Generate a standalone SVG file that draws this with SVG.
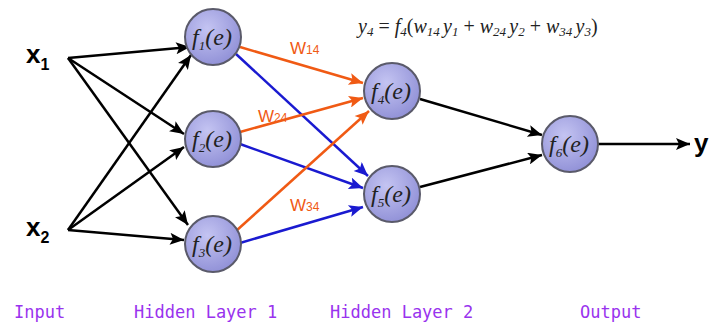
<svg xmlns="http://www.w3.org/2000/svg" width="709" height="324" viewBox="0 0 709 324">
<defs>
<radialGradient id="g" cx="0.4" cy="0.35" r="0.7">
<stop offset="0" stop-color="#c4c4f2"/>
<stop offset="1" stop-color="#8f8fd6"/>
</radialGradient>
<marker id="ao" viewBox="0 0 14 12" refX="14" refY="6" markerWidth="15" markerHeight="12" markerUnits="userSpaceOnUse" orient="auto"><path d="M0,0 L14,6 L0,12 L3,6 z" fill="#f05a14"/></marker>
<marker id="ab" viewBox="0 0 14 12" refX="14" refY="6" markerWidth="15" markerHeight="12" markerUnits="userSpaceOnUse" orient="auto"><path d="M0,0 L14,6 L0,12 L3,6 z" fill="#1a1ad0"/></marker>
<marker id="akb" viewBox="0 0 14 12" refX="14" refY="6" markerWidth="15" markerHeight="12" markerUnits="userSpaceOnUse" orient="auto"><path d="M0,0 L14,6 L0,12 L3,6 z" fill="#000"/></marker>
</defs>
<style>
.n{fill:url(#g);stroke:#5a5a6a;stroke-width:2}
.f{font-family:"Liberation Serif",serif;font-style:italic;font-size:24px;fill:#222}
.k{stroke:#000;stroke-width:2.5;fill:none;marker-end:url(#akb)}
.o{stroke:#f05a14;stroke-width:2.5;fill:none;marker-end:url(#ao)}
.b{stroke:#1a1ad0;stroke-width:2.5;fill:none;marker-end:url(#ab)}
.x{font-family:"Liberation Sans",Arial,sans-serif;font-weight:bold;font-size:26px;fill:#000}
.w{font-family:"Liberation Sans Narrow","Liberation Sans",Arial,sans-serif;font-size:17px;fill:#f05a14}
.lab{font-family:"DejaVu Sans Mono","Liberation Mono",monospace;font-size:17px;fill:#9933ee}
.eq{font-family:"Liberation Serif",serif;font-style:italic;font-size:20px;fill:#222}
</style>
<g id="connectors">
<line class="k" x1="68" y1="58" x2="190" y2="47"/>
<line class="k" x1="68" y1="58" x2="184" y2="134"/>
<line class="k" x1="68" y1="58" x2="188" y2="225"/>
<line class="k" x1="68" y1="230" x2="191" y2="55"/>
<line class="k" x1="68" y1="230" x2="184" y2="147"/>
<line class="k" x1="68" y1="230" x2="184" y2="240"/>
<line class="o" x1="240" y1="47" x2="363" y2="83"/>
<line class="b" x1="236" y1="54" x2="368" y2="176"/>
<line class="o" x1="240" y1="132" x2="363" y2="98"/>
<line class="b" x1="240" y1="144" x2="363" y2="188"/>
<line class="o" x1="236" y1="231" x2="369" y2="111"/>
<line class="b" x1="240" y1="243" x2="363" y2="207"/>
<line class="k" x1="420" y1="99" x2="542" y2="135"/>
<line class="k" x1="420" y1="187" x2="542" y2="155"/>
<line class="k" x1="598" y1="144" x2="690" y2="144"/>
</g>
<g id="x1"><text class="x" x="26" y="63">x<tspan font-size="16" dy="7">1</tspan></text></g>
<g id="x2"><text class="x" x="26" y="236">x<tspan font-size="16" dy="7">2</tspan></text></g>
<g id="f1"><circle class="n" cx="213" cy="37" r="28"/><text class="f" x="212" y="45" text-anchor="middle">f<tspan font-size="13" dy="5">1</tspan><tspan dy="-5">(e)</tspan></text></g>
<g id="f2"><circle class="n" cx="213" cy="139" r="28"/><text class="f" x="212" y="147" text-anchor="middle">f<tspan font-size="13" dy="5">2</tspan><tspan dy="-5">(e)</tspan></text></g>
<g id="f3"><circle class="n" cx="213" cy="244" r="28"/><text class="f" x="212" y="252" text-anchor="middle">f<tspan font-size="13" dy="5">3</tspan><tspan dy="-5">(e)</tspan></text></g>
<g id="f4"><circle class="n" cx="392" cy="91" r="28"/><text class="f" x="391" y="99" text-anchor="middle">f<tspan font-size="13" dy="5">4</tspan><tspan dy="-5">(e)</tspan></text></g>
<g id="f5"><circle class="n" cx="392" cy="194" r="28"/><text class="f" x="391" y="202" text-anchor="middle">f<tspan font-size="13" dy="5">5</tspan><tspan dy="-5">(e)</tspan></text></g>
<g id="f6"><circle class="n" cx="570" cy="144" r="28"/><text class="f" x="569" y="152" text-anchor="middle">f<tspan font-size="13" dy="5">6</tspan><tspan dy="-5">(e)</tspan></text></g>
<g id="y"><text class="x" x="694" y="152">y</text></g>
<g id="weights">
<text class="w" x="290" y="54">W<tspan font-size="12">14</tspan></text>
<text class="w" x="258" y="122">W<tspan font-size="12">24</tspan></text>
<text class="w" x="290" y="211">W<tspan font-size="12">34</tspan></text>
</g>
<g id="equation"><text class="eq" x="358" y="33">y<tspan font-size="13" dy="3">4</tspan><tspan dy="-3" font-style="normal"> = </tspan>f<tspan font-size="13" dy="3">4</tspan><tspan dy="-3" font-style="normal">(</tspan>w<tspan font-size="13" dy="3">14 </tspan><tspan dy="-3">y</tspan><tspan font-size="13" dy="3">1</tspan><tspan dy="-3" font-style="normal"> + </tspan>w<tspan font-size="13" dy="3">24 </tspan><tspan dy="-3">y</tspan><tspan font-size="13" dy="3">2</tspan><tspan dy="-3" font-style="normal"> + </tspan>w<tspan font-size="13" dy="3">34 </tspan><tspan dy="-3">y</tspan><tspan font-size="13" dy="3">3</tspan><tspan dy="-3" font-style="normal">)</tspan></text></g>
<g id="labels">
<text class="lab" x="14" y="318">Input</text>
<text class="lab" x="134" y="318">Hidden Layer 1</text>
<text class="lab" x="330" y="318">Hidden Layer 2</text>
<text class="lab" x="580" y="318">Output</text>
</g>
</svg>
